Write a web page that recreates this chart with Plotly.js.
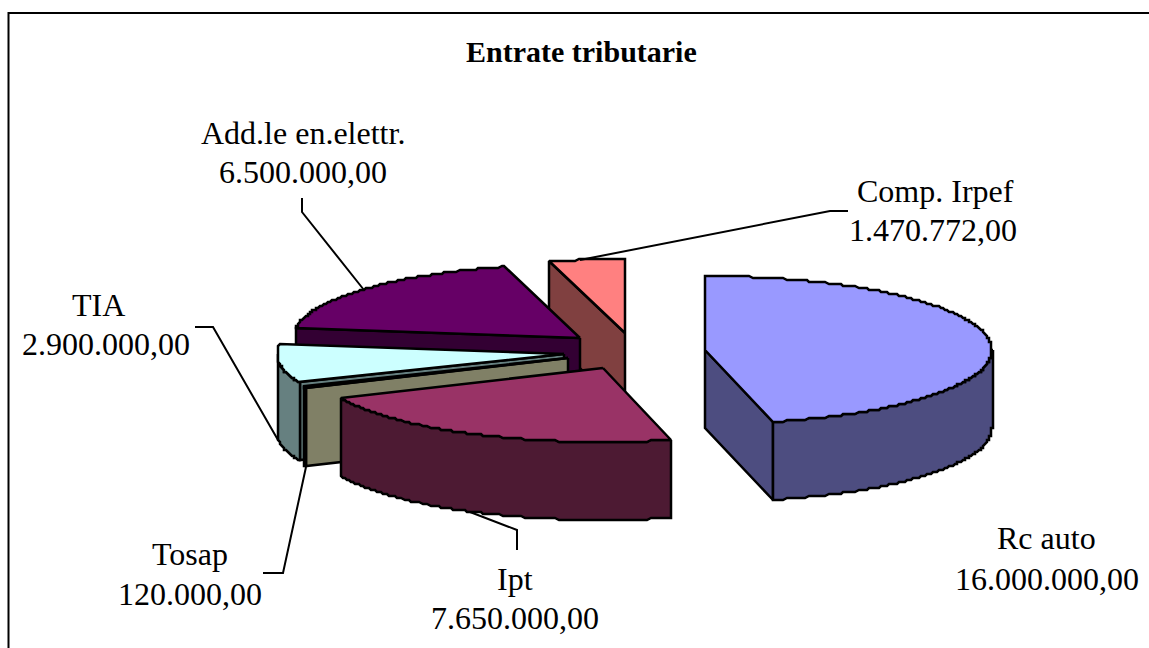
<!DOCTYPE html>
<html>
<head>
<meta charset="utf-8">
<script src="https://cdn.plot.ly/plotly-3.0.1.min.js"></script>
<style>html,body{margin:0;padding:0;background:#fff;overflow:hidden}#chart{width:1149px;height:648px}</style>
</head>
<body>
<div id="chart"></div>
<script>
// Data
var categories = ["Rc auto", "Ipt", "Tosap", "TIA", "Add.le en.elettr.", "Comp. Irpef"];
var values = [16000000, 7650000, 120000, 2900000, 6500000, 1470772];
var chartTitle = "Entrate tributarie";

// Styles
var topColors = ["#9999FF", "#993366", "#FFFFCC", "#CCFFFF", "#660066", "#FF8080"];
var sideColors = ["#4D4D80", "#4D1A33", "#808066", "#668080", "#330033", "#804040"];

// Pie geometry (exploded 3D projection)
var centre = [628, 352], radiusX = 287, radiusY = 74, depth = 78;
var explodeX = [0.268, -0.087, -0.209, -0.223, -0.167, -0.010];
var explodeY = [-0.027, 0.216, 0.081, 0.027, -0.189, -0.257];
var paintOrder = [5, 4, 3, 2, 1, 0];

// Label layout
var nameAt = [[1046, 538], [515, 579], [190, 554], [98, 305], [303, 133], [935, 191]];
var valueAt = [[1047, 579], [515, 618], [190, 594], [106, 344], [303, 172], [933, 230]];
var leaderX = [[517, 517, 470], [263, 283, 306], [195, 213, 278], [302, 302, 364], [848, 830, 580]];
var leaderY = [[550, 530, 512], [573, 573, 467], [327, 327, 440], [198, 212, 290], [211, 211, 260]];

function fmt(v) {
  return v.toFixed(2).replace(".", ",").replace(/\B(?=(\d{3})+(?!\d))/g, ".");
}

var total = values.reduce(function (a, b) { return a + b; }, 0);
var starts = [], ends = [], acc = 0;
values.forEach(function (v) {
  starts.push(acc / total * 2 * Math.PI);
  acc += v;
  ends.push(acc / total * 2 * Math.PI);
});

var STEP = 2;
function snap(v) { return Math.round(v / STEP) * STEP; }
function rimPoint(ax, ay, a, dz) {
  return [ax + snap(radiusX * Math.sin(a)), ay + snap(-radiusY * Math.cos(a)) + dz];
}
function arc(ax, ay, a0, a1, dz) {
  var n = Math.max(1, Math.ceil(Math.abs(a1 - a0) / 0.012)), pts = [];
  for (var i = 0; i <= n; i++) pts.push(rimPoint(ax, ay, a0 + (a1 - a0) * i / n, dz));
  return pts;
}
function poly(pts, fill) {
  var xs = pts.map(function (p) { return p[0]; });
  var ys = pts.map(function (p) { return p[1]; });
  xs.push(xs[0]); ys.push(ys[0]);
  return {
    type: "scatter", mode: "lines", x: xs, y: ys, fill: "toself", fillcolor: fill,
    line: { color: "#000", width: 2.5, shape: "linear" }, hoverinfo: "skip", showlegend: false
  };
}

var traces = [];
paintOrder.forEach(function (i) {
  var ax = Math.round(centre[0] + explodeX[i] * radiusX);
  var ay = Math.round(centre[1] + explodeY[i] * radiusY);
  var a0 = starts[i], a1 = ends[i];
  // cut faces that look towards the viewer
  if (Math.sin(a0) < -1e-6) {
    var s = rimPoint(ax, ay, a0, 0);
    traces.push(poly([[ax, ay], s, [s[0], s[1] + depth], [ax, ay + depth]], sideColors[i]));
  }
  if (Math.sin(a1) > 1e-6) {
    var e = rimPoint(ax, ay, a1, 0);
    traces.push(poly([[ax, ay], e, [e[0], e[1] + depth], [ax, ay + depth]], sideColors[i]));
  }
  // outer wall on the front half of the ellipse
  var w0 = Math.max(a0, Math.PI / 2), w1 = Math.min(a1, 3 * Math.PI / 2);
  if (w1 > w0) {
    traces.push(poly(arc(ax, ay, w0, w1, 0).concat(arc(ax, ay, w1, w0, depth)), sideColors[i]));
  }
  // top face
  traces.push(poly([[ax, ay]].concat(arc(ax, ay, a0, a1, 0)), topColors[i]));
});

leaderX.forEach(function (xs, k) {
  traces.push({
    type: "scatter", mode: "lines", x: xs, y: leaderY[k],
    line: { color: "#000", width: 2 }, hoverinfo: "skip", showlegend: false
  });
});

var font = { family: "'Liberation Serif', 'Times New Roman', serif", size: 32, color: "#000" };
function note(text, at) {
  return { text: text, x: at[0], y: at[1], xref: "x", yref: "y", showarrow: false,
           xanchor: "center", yanchor: "middle", font: font };
}
var annotations = [];
categories.forEach(function (c, i) {
  annotations.push(note(c, nameAt[i]));
  annotations.push(note(fmt(values[i]), valueAt[i]));
});
annotations.push({
  text: "<b>" + chartTitle + "</b>", x: 581, y: 51, xref: "x", yref: "y", showarrow: false,
  xanchor: "center", yanchor: "middle",
  font: { family: font.family, size: 30, color: "#000" }
});

var layout = {
  width: 1149, height: 648, margin: { l: 0, r: 0, t: 0, b: 0 },
  paper_bgcolor: "#fff", plot_bgcolor: "#fff", showlegend: false,
  xaxis: { range: [0, 1149], visible: false, fixedrange: true },
  yaxis: { range: [648, 0], visible: false, fixedrange: true },
  annotations: annotations,
  shapes: [{ type: "rect", xref: "x", yref: "y", x0: 8.5, x1: 1160, y0: 13, y1: 660,
             line: { color: "#000", width: 2 }, fillcolor: "rgba(0,0,0,0)", layer: "below" }]
};
Plotly.newPlot("chart", traces, layout, { displayModeBar: false, staticPlot: true });
</script>
</body>
</html>
